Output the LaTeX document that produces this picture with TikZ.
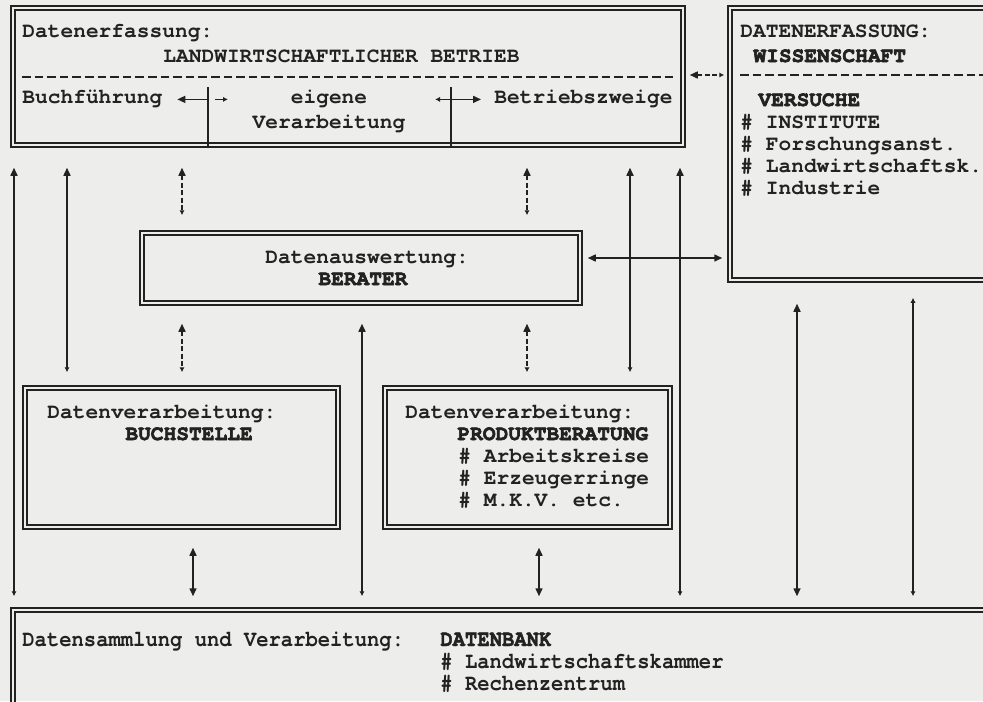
\documentclass[tikz,border=0pt]{standalone}
\usepackage{fontspec}
\newfontfamily\mono{TeX Gyre Cursor Bold}
\newfontfamily\monobold[FakeBold=3]{TeX Gyre Cursor Bold}
\newfontfamily\monoc[FakeStretch=0.9]{TeX Gyre Cursor Bold}
\newfontfamily\monocb[FakeStretch=0.9,FakeBold=2]{TeX Gyre Cursor Bold}
\usetikzlibrary{arrows.meta,fit}
\definecolor{paper}{HTML}{EDEDEB}
\definecolor{ink}{HTML}{222222}

\begin{document}
\begin{tikzpicture}[
		x=0.5pt, y=-0.5pt,
		dbox/.style={draw=ink, double=paper, double distance=1.2pt, line width=0.75pt, inner sep=0pt},
		txt/.style={font=\mono\fontsize{10.6pt}{12pt}\selectfont, text=ink, inner sep=0pt, anchor=base west},
		txtb/.style={txt, font=\monobold\fontsize{10.6pt}{12pt}\selectfont},
		txtc/.style={txt, font=\monoc\fontsize{11.4pt}{12pt}\selectfont},
		link/.style={draw=ink, line width=0.75pt},
		dlink/.style={link, dash pattern=on 2.5pt off 1.2pt},
		sep/.style={draw=ink, line width=1pt, dash pattern=on 4.3pt off 2pt},
		Fi/.tip={Triangle[length=4pt,width=3.5pt]},
		Sm/.tip={Latex[length=2.5pt,width=2.6pt]}]
	%% paper
	\fill[paper, use as bounding box] (0,0) rectangle (983,701);
	%% define boxes
	\node[dbox, fit={(13,8) (683,145)}] (betrieb) {};
	\node[dbox, fit={(730,8) (1010,280)}] (wissen) {};
	\node[dbox, fit={(142,233) (580,303)}] (berater) {};
	\node[dbox, fit={(25,388) (338,527)}] (buch) {};
	\node[dbox, fit={(385,388) (670,527)}] (produkt) {};
	\node[dbox, fit={(13,610) (1010,730)}] (datenbank) {};
	%% landwirtschaftlicher betrieb
	\node[txt] (erfa) at (22,38) {Datenerfassung:};
	\node[txt] (lwb) at (163,62) {LANDWIRTSCHAFTLICHER BETRIEB};
	\draw[sep] (22,77) -- (676,77);
	\node[txt] (buchf) at (22,104) {Buchführung};
	\node[txt, anchor=base] (eig) at (329,104) {eigene};
	\node[txt, anchor=base] (verarb) at (329,128) {Verarbeitung};
	\node[txt] (zweige) at (494,104) {Betriebszweige};
	\coordinate (d1) at (208,87);
	\coordinate (d2) at (451,87);
	\draw[link] (d1) -- (betrieb.south -| d1);
	\draw[link] (d2) -- (betrieb.south -| d2);
	\draw[link, -Fi, shorten >=7.3pt] (d1 |- buchf.east) -- (buchf.east);
	\draw[link, -Sm] ([xshift=3.5pt]d1 |- buchf.east) -- ++(6.5pt,0);
	\draw[link, Sm-Fi, shorten >=6.5pt] ([xshift=-8pt]d2 |- zweige.west) -- (zweige.west);
	%% wissenschaft
	\node[txt] (erfw) at (740,38) {DATENERFASSUNG:};
	\node[txtb] (wiss) at (753,62) {WISSENSCHAFT};
	\draw[sep] (740,75) -- (990,75);
	\node[txtb] (vers) at (758,106) {VERSUCHE};
	\node[txt] (inst) at (740,128) {\# INSTITUTE};
	\node[txt] (fors) at (740,150) {\# Forschungsanst.};
	\node[txt] (lwk) at (740,172) {\# Landwirtschaftsk.};
	\node[txt] (ind) at (740,194) {\# Industrie};
	%% berater
	\node[txt] (ausw) at (265,263) {Datenauswertung:};
	\node[txtb] (ber) at (318,285) {BERATER};
	%% buchstelle
	\node[txt] (verb) at (47,418) {Datenverarbeitung:};
	\node[txtb] (bst) at (125,440) {BUCHSTELLE};
	%% produktberatung
	\node[txt] (verp) at (405,418) {Datenverarbeitung:};
	\node[txtb] (pb) at (457,440) {PRODUKTBERATUNG};
	\node[txt] (ak) at (458,462) {\# Arbeitskreise};
	\node[txt] (er) at (458,484) {\# Erzeugerringe};
	\node[txt] (mkv) at (458,506) {\# M.K.V. etc.};
	%% datenbank
	\node[txtc] (samm) at (22,646) {Datensammlung und Verarbeitung:};
	\node[txtc, font=\monocb\fontsize{11.4pt}{12pt}\selectfont] (db) at (440,646) {DATENBANK};
	\node[txtc] (lk) at (440,668) {\# Landwirtschaftskammer};
	\node[txtc] (rz) at (440,690) {\# Rechenzentrum};
	%% define arrows
	\foreach \c in {14,67,182,193,362,527,539,630,680,797,913}
		\coordinate (k\c) at (\c,0);
	\coordinate (h75) at (0,75);
	\coordinate (h258) at (0,258);
	\draw[link, Fi-Sm, shorten <=11pt, shorten >=6.5pt] (betrieb.south -| k14) -- (datenbank.north -| k14);
	\draw[link, Fi-Sm, shorten <=11pt, shorten >=7.5pt] (betrieb.south -| k67) -- (buch.north -| k67);
	\draw[dlink, Fi-Sm, shorten <=11pt, shorten >=8.5pt] (betrieb.south -| k182) -- (berater.north -| k182);
	\draw[dlink, Fi-Sm, shorten <=10pt, shorten >=7.5pt] (berater.south -| k182) -- (buch.north -| k182);
	\draw[link, Fi-Fi, shorten <=10pt, shorten >=6.5pt] (buch.south -| k193) -- (datenbank.north -| k193);
	\draw[link, Fi-Sm, shorten <=10pt, shorten >=6.5pt] (berater.south -| k362) -- (datenbank.north -| k362);
	\draw[dlink, Fi-Sm, shorten <=11pt, shorten >=8.5pt] (betrieb.south -| k527) -- (berater.north -| k527);
	\draw[dlink, Fi-Sm, shorten <=10pt, shorten >=7.5pt] (berater.south -| k527) -- (produkt.north -| k527);
	\draw[link, Fi-Fi, shorten <=10pt, shorten >=6.5pt] (produkt.south -| k539) -- (datenbank.north -| k539);
	\draw[link, Fi-Sm, shorten <=11pt, shorten >=7.5pt] (betrieb.south -| k630) -- (produkt.north -| k630);
	\draw[link, Fi-Sm, shorten <=11pt, shorten >=6.5pt] (betrieb.south -| k680) -- (datenbank.north -| k680);
	\draw[link, Fi-Fi, shorten <=11.5pt, shorten >=6.5pt] (wissen.south -| k797) -- (datenbank.north -| k797);
	\draw[link, Sm-Sm, shorten <=8.5pt, shorten >=6.5pt] (wissen.south -| k913) -- (datenbank.north -| k913);
	\draw[link, Fi-Fi, shorten <=3.5pt, shorten >=3.5pt] (berater.east |- h258) -- (wissen.west |- h258);
	\draw[dlink, Fi-Sm, shorten <=3pt, shorten >=2.5pt] (betrieb.east |- h75) -- (wissen.west |- h75);
\end{tikzpicture}
\end{document}
